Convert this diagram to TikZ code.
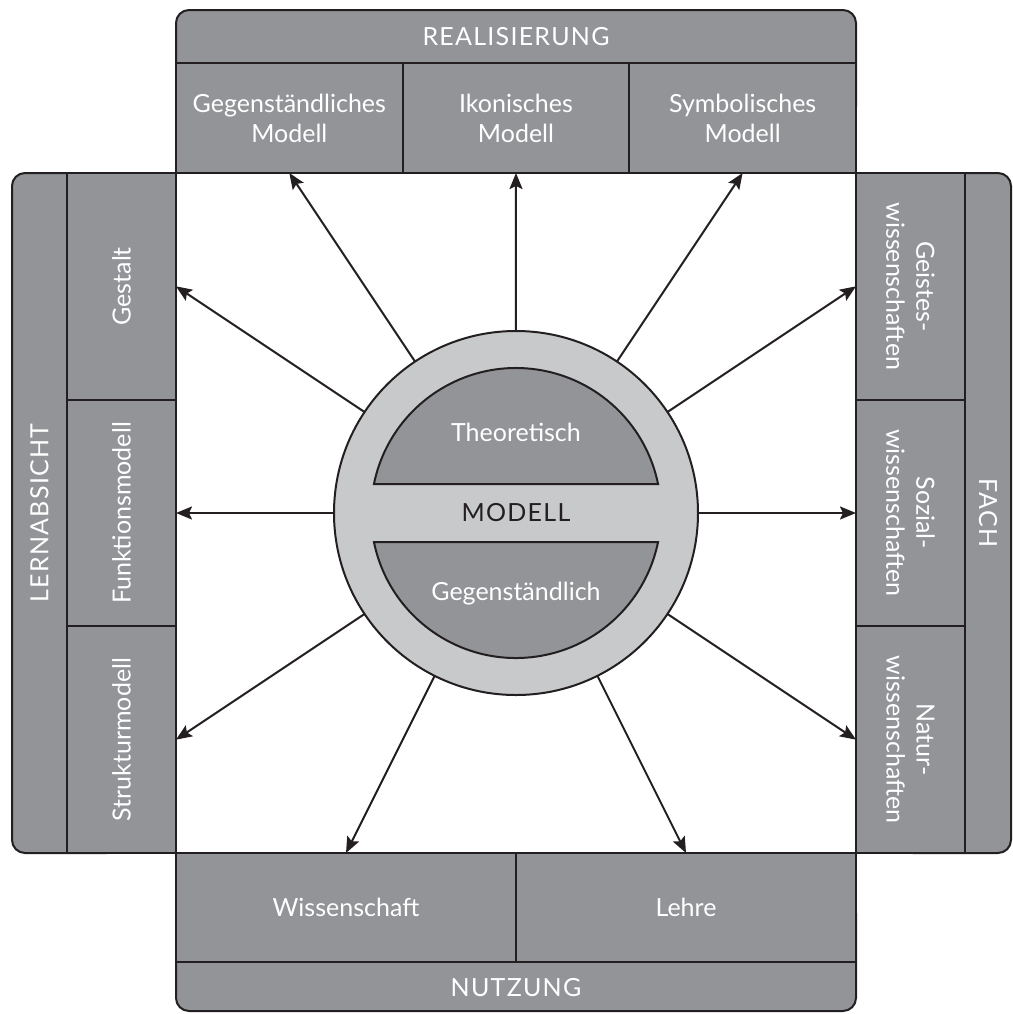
\documentclass[tikz,border=0pt]{standalone}
\usepackage{fontspec}
\setmainfont{Lato}
\usetikzlibrary{%
	positioning,
	calc,
	arrows.meta
}
\definecolor{boxgray}{RGB}{147,148,152}
\definecolor{ringgray}{RGB}{200,201,203}
\definecolor{linecol}{RGB}{35,31,32}

\begin{document}
\begin{tikzpicture}[x=0.5pt,y=-0.5pt,
		cell/.style={draw=linecol,fill=boxgray,line width=1pt,text=white,align=center,inner sep=0pt,outer sep=0pt,font=\fontsize{12.5pt}{15pt}\selectfont},
		topcell/.style={cell,minimum width=113.33pt,minimum height=55pt},
		sidecell/.style={cell,minimum width=113.33pt,minimum height=54.5pt},
		bottomcell/.style={cell,minimum width=170pt,minimum height=54.5pt},
		band/.style={draw=linecol,fill=boxgray,line width=1pt,rounded corners=6.5pt},
		bandtext/.style={text=white,inner sep=0pt,font=\fontsize{12.5pt}{15pt}\selectfont},
		caps/.style={font=\fontsize{12.5pt}{15pt}\selectfont\addfontfeatures{LetterSpace=5}},
		segment/.style={draw=linecol,fill=boxgray,line width=1pt},
		ray/.style={draw=linecol,line width=1pt,-{Stealth[length=8pt,width=6.5pt,inset=1.5pt]}}
	]
	\useasboundingbox (0,0) rectangle (1013,1014);
	
	%bands
	\filldraw[band] (176,10) rectangle (856,120);
	\filldraw[band] (12,173) rectangle (120,853);
	\filldraw[band] (900,173) rectangle (1011,853);
	\filldraw[band] (176,900) rectangle (856,1011);
	\node(realisierung) [bandtext, caps] at (516,37) {REALISIERUNG};
	\node(lernabsicht) [bandtext, caps, rotate=90] at (39.5,513) {LERNABSICHT};
	\node(fach) [bandtext, caps, rotate=-90] at (988,513) {FACH};
	\node(nutzung) [bandtext, caps] at (516,988) {NUTZUNG};
	
	%Realisierung
	\node(gegen) [topcell, anchor=north west] at (176,63) {Gegenständliches\\Modell};
	\node(ikon) [topcell, right=0pt of gegen] {Ikonisches\\Modell};
	\node(symb) [topcell, right=0pt of ikon] {Symbolisches\\Modell};
	
	%Lernabsicht
	\node(gestalt) [sidecell, rotate=90] at (121.5,286.33) {Gestalt};
	\node(funktion) [sidecell, rotate=90] at (121.5,513) {Funktionsmodell};
	\node(struktur) [sidecell, rotate=90] at (121.5,739.67) {Strukturmodell};
	
	%Fach
	\node(geistes) [sidecell, rotate=-90] at (910.5,286.33) {Geistes-\\wissenschaften};
	\node(sozial) [sidecell, rotate=-90] at (910.5,513) {Sozial-\\wissenschaften};
	\node(natur) [sidecell, rotate=-90] at (910.5,739.67) {Natur-\\wissenschaften};
	
	%Nutzung
	\node(wiss) [bottomcell, anchor=north west] at (176,853) {Wissenschaft};
	\node(lehre) [bottomcell, right=0pt of wiss] {Lehre};
	
	%Modell
	\node(modell) [circle, draw=linecol, fill=ringgray, line width=1pt, minimum size=182pt, inner sep=0pt, outer sep=0pt, text=linecol, caps] at (516,513) {MODELL};
	\filldraw[segment] ($(modell.center)+(168.46:72.5pt)$) arc[start angle=168.46, end angle=11.54, radius=72.5pt] -- cycle;
	\filldraw[segment] ($(modell.center)+(191.54:72.5pt)$) arc[start angle=191.54, end angle=348.46, radius=72.5pt] -- cycle;
	\node(theo) [bandtext] at (516,432) {Theoretisch};
	\node(gegenst) [bandtext] at (516,594) {Gegenständlich};
	
	%arrows
	\draw[ray] (modell) -- (gegen.south);
	\draw[ray] (modell) -- (ikon.south);
	\draw[ray] (modell) -- (symb.south);
	\draw[ray] (modell) -- (gestalt.south);
	\draw[ray] (modell) -- (funktion.south);
	\draw[ray] (modell) -- (struktur.south);
	\draw[ray] (modell) -- (geistes.south);
	\draw[ray] (modell) -- (sozial.south);
	\draw[ray] (modell) -- (natur.south);
	\draw[ray] (modell) -- (wiss.north);
	\draw[ray] (modell) -- (lehre.north);
	
\end{tikzpicture}
\end{document}
